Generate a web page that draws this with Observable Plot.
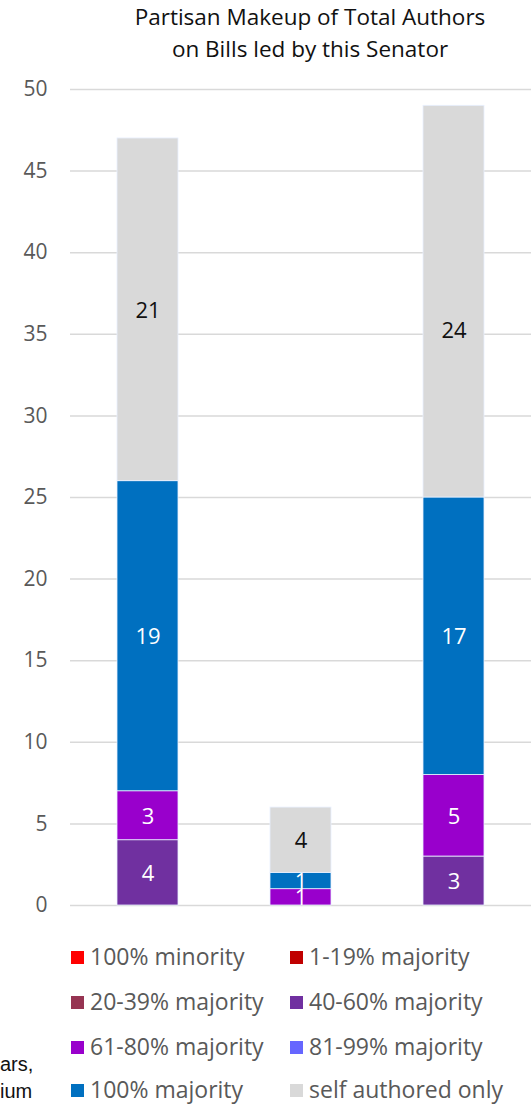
<!DOCTYPE html>
<html>
<head>
<meta charset="utf-8">
<script src="https://cdn.jsdelivr.net/npm/d3@7"></script>
<script src="https://cdn.jsdelivr.net/npm/@observablehq/plot@0.6"></script>
<style>
  body { margin: 0; background: #fff; width: 531px; height: 1104px; position: relative; overflow: hidden; font-family: "Open Sans", sans-serif; }
  #title { position: absolute; top: 1px; left: 60px; width: 500px; text-align: center; font-size: 22.5px; line-height: 32px; color: #111; }
  #chart { position: absolute; top: 70px; left: 0; }
  .leg { position: absolute; font-size: 23px; color: #595959; white-space: nowrap; line-height: 23px; }
  .sw { display: inline-block; width: 13px; height: 13px; margin-right: 6px; vertical-align: 1px; }
  #cut { position: absolute; left: 0; top: 1051px; font-family: "Liberation Sans", Arial, sans-serif; font-size: 20px; line-height: 27px; color: #111; }
</style>
</head>
<body>
<div id="title">Partisan Makeup of Total Authors<br>on Bills led by this Senator</div>
<div id="chart"></div>
<div id="legend"></div>
<div id="cut">ars,<br>ium</div>
<script>
const categories = ["Bills 1", "Bills 2", "Bills 3"];
const seriesNames = ["100% minority", "1-19% majority", "20-39% majority", "40-60% majority", "61-80% majority", "81-99% majority", "100% majority", "self authored only"];
const seriesColors = ["#ff0000", "#c00000", "#963452", "#7030a0", "#9900cc", "#6666ff", "#0070c0", "#d9d9d9"];
const minority100 = [0, 0, 0];
const majority1to19 = [0, 0, 0];
const majority20to39 = [0, 0, 0];
const majority40to60 = [4, 0, 3];
const majority61to80 = [3, 1, 5];
const majority81to99 = [0, 0, 0];
const majority100 = [19, 1, 17];
const selfAuthored = [21, 4, 24];
const yTicks = [0, 5, 10, 15, 20, 25, 30, 35, 40, 45, 50];

const seriesValues = [minority100, majority1to19, majority20to39, majority40to60, majority61to80, majority81to99, majority100, selfAuthored];
const rows = [];
categories.forEach((c, i) => {
  seriesNames.forEach((s, j) => {
    rows.push({cat: c, series: s, value: seriesValues[j][i]});
  });
});
// label of the last bar's top segment sits lower in the reference
const isShifted = d => d.cat === categories[2] && d.series === "self authored only";
const labelColor = d => d.series === "self authored only" ? "#111" : "#fff";

const plot = Plot.plot({
  width: 531,
  height: 860,
  marginLeft: 70,
  marginRight: 0,
  marginTop: 19,
  marginBottom: 25,
  style: {fontFamily: "Open Sans, sans-serif", fontSize: "21px", color: "#595959", background: "transparent"},
  x: {domain: categories, paddingInner: 0.6, paddingOuter: 0.3, axis: null},
  y: {domain: [0, 50], ticks: yTicks, tickSize: 0, tickPadding: 23, label: null},
  color: {domain: seriesNames, range: seriesColors},
  marks: [
    Plot.gridY(yTicks, {stroke: "#d9d9d9", strokeOpacity: 1, strokeWidth: 1.5}),
    Plot.barY(rows, Plot.stackY({x: "cat", y: "value", fill: "series", stroke: "#e8f0ff", strokeWidth: 0.8, inset: 0})),
    Plot.text(rows, Plot.stackY({x: "cat", y: "value", text: d => (d.value > 0 && !isShifted(d)) ? String(d.value) : "", fill: labelColor, fontSize: 22, dy: 1})),
    Plot.text(rows, Plot.stackY({x: "cat", y: "value", text: d => (d.value > 0 && isShifted(d)) ? String(d.value) : "", fill: labelColor, fontSize: 22, dy: 29}))
  ]
});
document.getElementById("chart").appendChild(plot);

const legend = document.getElementById("legend");
const legPos = [[71, 945], [290, 945], [71, 990], [290, 990], [71, 1035], [290, 1035], [71, 1078], [290, 1078]];
seriesNames.forEach((s, i) => {
  const d = document.createElement("div");
  d.className = "leg";
  d.style.left = legPos[i][0] + "px";
  d.style.top = legPos[i][1] + "px";
  d.innerHTML = `<span class="sw" style="background:${seriesColors[i]}"></span>${s}`;
  legend.appendChild(d);
});
</script>
</body>
</html>
